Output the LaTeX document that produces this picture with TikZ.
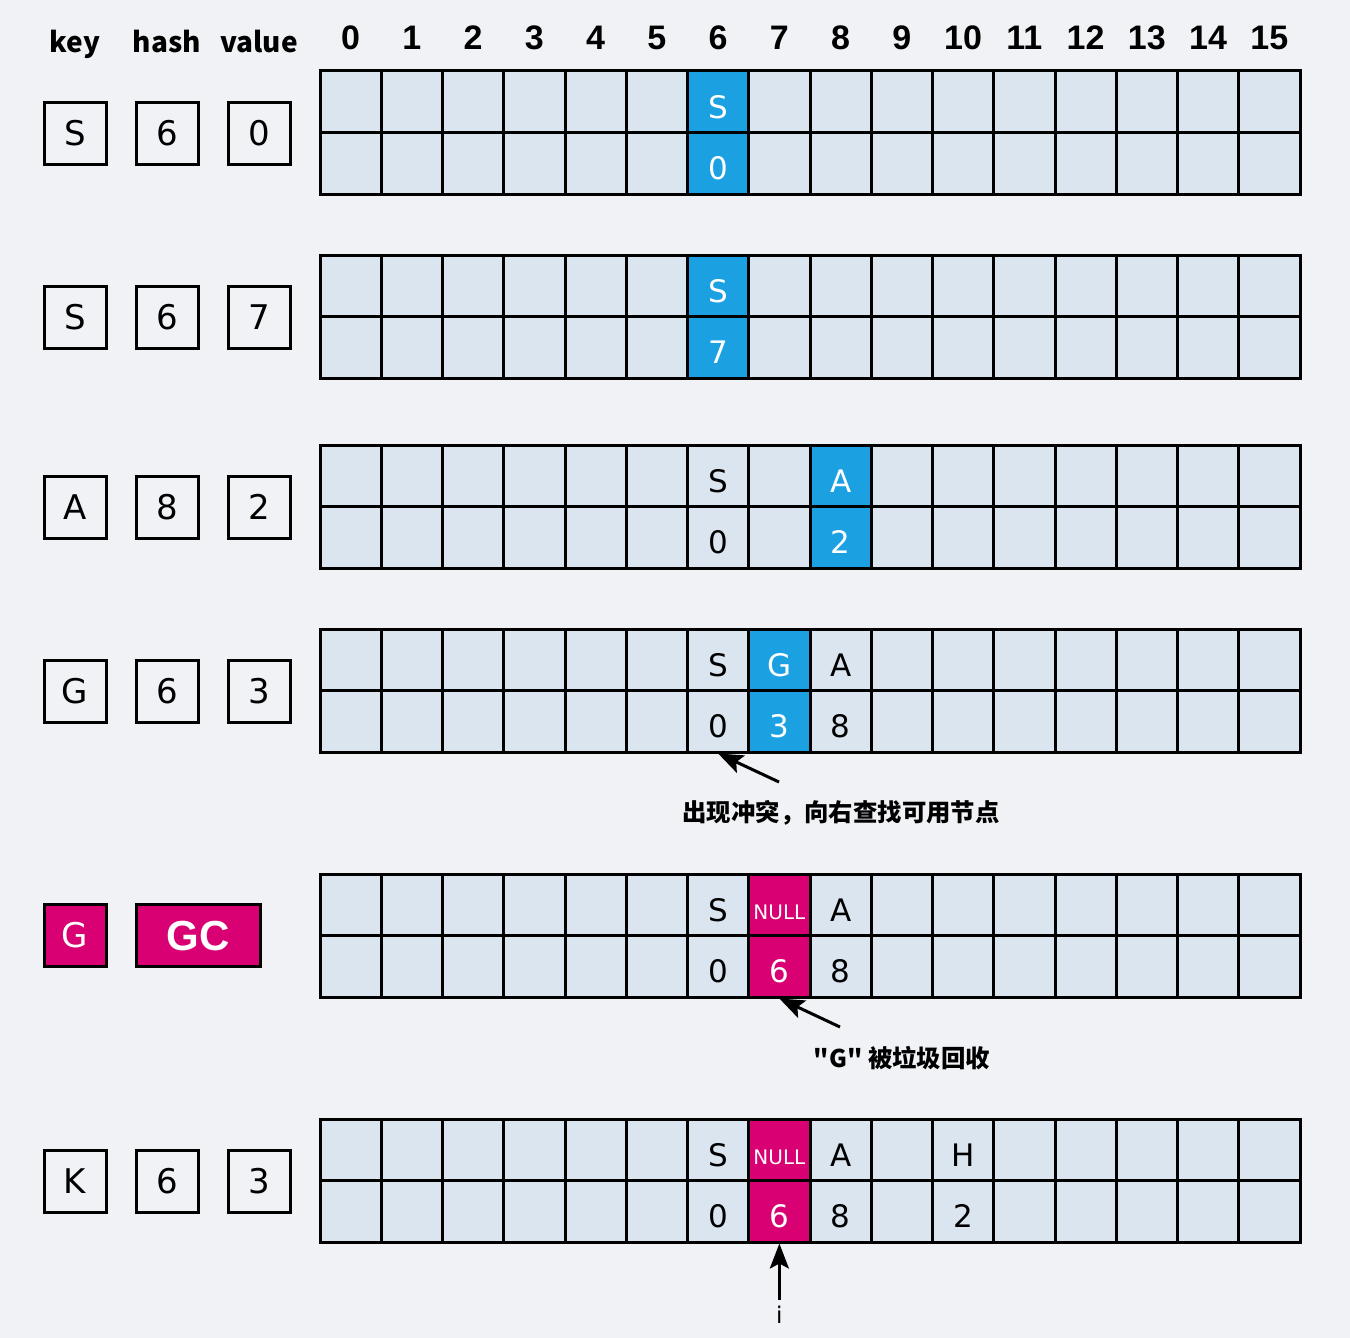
\documentclass[tikz,border=0pt]{standalone}
\usepackage{fontspec}
\setmainfont{DejaVu Sans}
\newfontfamily\cjkfont{Noto Sans CJK SC}
\newfontfamily\arialfont{Liberation Sans}
\usetikzlibrary{arrows.meta}
\definecolor{bgc}{HTML}{F0F2F5}
\definecolor{cellc}{HTML}{DAE5EF}
\definecolor{hlblue}{HTML}{1BA1E2}
\definecolor{hlmag}{HTML}{D80073}
\newcommand\ctx[3]{\node[ctext,text=#3] (#1x) at ([yshift=-5pt]#1.center) {#2};}
\begin{document}
\begin{tikzpicture}[x=1pt,y=-1pt,
  cellbox/.style={draw=black,line width=3pt,fill=cellc,minimum width=61.25pt,minimum height=61.5pt,inner sep=0pt},
  hlb/.style={cellbox,fill=hlblue},
  hlm/.style={cellbox,fill=hlmag},
  ctext/.style={font=\fontsize{31}{31}\selectfont,text height=22.5pt,text depth=0pt,inner sep=0pt},
  nulltext/.style={font=\fontsize{20}{20}\selectfont,text height=15pt,text depth=0pt,inner sep=0pt,text=white},
  lbox/.style={draw=black,line width=3pt,minimum width=62pt,minimum height=62pt,inner sep=0pt,font=\fontsize{34}{34}\selectfont,text height=25pt,text depth=0pt},
  colnum/.style={anchor=base,font=\arialfont\bfseries\fontsize{34}{34}\selectfont,inner sep=0pt},
  hdr/.style={anchor=base,font=\cjkfont\bfseries\fontsize{28}{28}\selectfont,inner sep=0pt},
  cjklab/.style={font=\cjkfont\bfseries\fontsize{24.4}{26}\selectfont,inner sep=0pt},
  arr/.style={line width=3pt,-{Stealth[length=25pt,width=19pt,inset=5pt]}}
]
\fill[bgc] (0,0) rectangle (1350,1338);
\useasboundingbox (0,0) rectangle (1350,1338);

% headers
\node[hdr] (hkey) at (75,53) {key};
\node[hdr] (hhash) at (167,53) {hash};
\node[hdr] (hvalue) at (259,53) {value};
\foreach \ci in {0,...,15}{
  \node[colnum] (n\ci) at ({320+61.25*(\ci+0.5)},50) {\ci};
}

% grids
\foreach \gi/\ty in {1/71,2/255,3/445,4/629,5/874,6/1119}{
  \foreach \ci in {0,...,15}{
    \node[cellbox] (g\gi c\ci t) at ({320+61.25*(\ci+0.5)},{\ty+30.75}) {};
    \node[cellbox] (g\gi c\ci b) at ({320+61.25*(\ci+0.5)},{\ty+92.25}) {};
  }
}

% grid 1
\node[hlb] at (g1c6t) {}; \node[hlb] at (g1c6b) {};
\ctx{g1c6t}{S}{white} \ctx{g1c6b}{0}{white}
% grid 2
\node[hlb] at (g2c6t) {}; \node[hlb] at (g2c6b) {};
\ctx{g2c6t}{S}{white} \ctx{g2c6b}{7}{white}
% grid 3
\ctx{g3c6t}{S}{black} \ctx{g3c6b}{0}{black}
\node[hlb] at (g3c8t) {}; \node[hlb] at (g3c8b) {};
\ctx{g3c8t}{A}{white} \ctx{g3c8b}{2}{white}
% grid 4
\ctx{g4c6t}{S}{black} \ctx{g4c6b}{0}{black}
\node[hlb] at (g4c7t) {}; \node[hlb] at (g4c7b) {};
\ctx{g4c7t}{G}{white} \ctx{g4c7b}{3}{white}
\ctx{g4c8t}{A}{black} \ctx{g4c8b}{8}{black}
% grid 5
\ctx{g5c6t}{S}{black} \ctx{g5c6b}{0}{black}
\node[hlm] at (g5c7t) {}; \node[hlm] at (g5c7b) {};
\node[nulltext] (g5c7tx) at ([yshift=-7pt]g5c7t.center) {NULL};
\ctx{g5c7b}{6}{white}
\ctx{g5c8t}{A}{black} \ctx{g5c8b}{8}{black}
% grid 6
\ctx{g6c6t}{S}{black} \ctx{g6c6b}{0}{black}
\node[hlm] at (g6c7t) {}; \node[hlm] at (g6c7b) {};
\node[nulltext] (g6c7tx) at ([yshift=-7pt]g6c7t.center) {NULL};
\ctx{g6c7b}{6}{white}
\ctx{g6c8t}{A}{black} \ctx{g6c8b}{8}{black}
\ctx{g6c10t}{H}{black} \ctx{g6c10b}{2}{black}

% left boxes
\node[lbox] (k1) at (75,133) {S};
\node[lbox] (h1) at (167,133) {6};
\node[lbox] (v1) at (259,133) {0};
\node[lbox] (k2) at (75,317) {S};
\node[lbox] (h2) at (167,317) {6};
\node[lbox] (v2) at (259,317) {7};
\node[lbox] (k3) at (75,507) {A};
\node[lbox] (h3) at (167,507) {8};
\node[lbox] (v3) at (259,507) {2};
\node[lbox] (k4) at (75,691) {G};
\node[lbox] (h4) at (167,691) {6};
\node[lbox] (v4) at (259,691) {3};
\node[lbox,fill=hlmag,text=white] (k5) at (75,935) {G};
\node[lbox,fill=hlmag,text=white,minimum width=124pt,font=\arialfont\bfseries\fontsize{42}{42}\selectfont,text height=30pt] (gc5) at (198,935) {GC};
\node[lbox] (k6) at (75,1181) {K};
\node[lbox] (h6) at (167,1181) {6};
\node[lbox] (v6) at (259,1181) {3};

% arrows and labels
\coordinate (t1) at (779,782);
\draw[arr] (t1) -- (g4c6b.south);
\node[cjklab] (lab1) at (841,813) {出现冲突，向右查找可用节点};
\coordinate (t2) at (840,1027);
\draw[arr] (t2) -- (g5c7b.south);
\node[cjklab] (lab2) at (902,1058) {"G" 被垃圾回收};
\node[anchor=base,inner sep=0pt,font=\fontsize{23}{23}\selectfont] (ilab) at (779.375,1323) {i};
\coordinate (t3) at (779.375,1300);
\draw[arr] (t3) -- (g6c7b.south);
\end{tikzpicture}
\end{document}
